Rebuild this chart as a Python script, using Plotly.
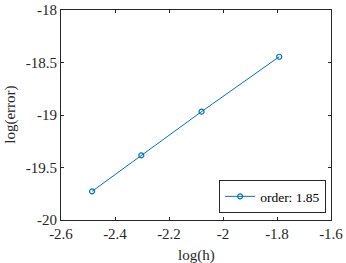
import plotly.graph_objects as go

log_h = [-2.4849, -2.3026, -2.0794, -1.7918]
log_err = [-19.727, -19.384, -18.968, -18.445]
series_name = "order: 1.85"
x_ticks = [-2.6, -2.4, -2.2, -2.0, -1.8, -1.6]
x_ticktext = ["-2.6", "-2.4", "-2.2", "-2", "-1.8", "-1.6"]
y_ticks = [-20, -19.5, -19, -18.5, -18]
y_ticktext = ["-20", "-19.5", "-19", "-18.5", "-18"]

SERIF = "Liberation Serif"

fig = go.Figure()
fig.add_trace(go.Scatter(
    x=log_h, y=log_err, mode="lines+markers", name=series_name,
    line=dict(color="#0072BD", width=1),
    marker=dict(symbol="circle-open", size=5, color="#0072BD", line=dict(width=1.2)),
))

axis_common = dict(
    showline=True, linecolor="#262626", linewidth=1, mirror="ticks",
    ticks="inside", ticklen=3, tickcolor="#262626", showgrid=False, zeroline=False,
    tickfont=dict(family=SERIF, size=15, color="#262626"), automargin=False,
)
fig.update_layout(
    width=346, height=263,
    margin=dict(l=61, r=15, t=10, b=43),
    paper_bgcolor="white", plot_bgcolor="white",
    font=dict(family=SERIF, color="#262626"),
    xaxis=dict(range=[-2.6, -1.6], tickvals=x_ticks, ticktext=x_ticktext, **axis_common),
    yaxis=dict(range=[-20, -18], tickvals=y_ticks, ticktext=y_ticktext, **axis_common),
    showlegend=True,
    legend=dict(x=0.982, y=0.033, xanchor="right", yanchor="bottom",
                bordercolor="#262626", borderwidth=1, bgcolor="white",
                font=dict(family=SERIF, size=13.5, color="#000000"),
                itemwidth=30, tracegroupgap=0),
    annotations=[
        dict(text="log(h)", xref="paper", yref="paper", x=0.5, y=-0.17,
             xanchor="center", yanchor="middle", showarrow=False,
             font=dict(family=SERIF, size=15, color="#262626")),
        dict(text="log(error)", xref="paper", yref="paper", x=-0.19, y=0.5,
             xanchor="center", yanchor="middle", showarrow=False, textangle=-90,
             font=dict(family=SERIF, size=15, color="#262626")),
    ],
)
fig.write_html("out.html", config={"displayModeBar": False},
               post_script="document.body.style.margin='0';document.body.style.padding='0';")
